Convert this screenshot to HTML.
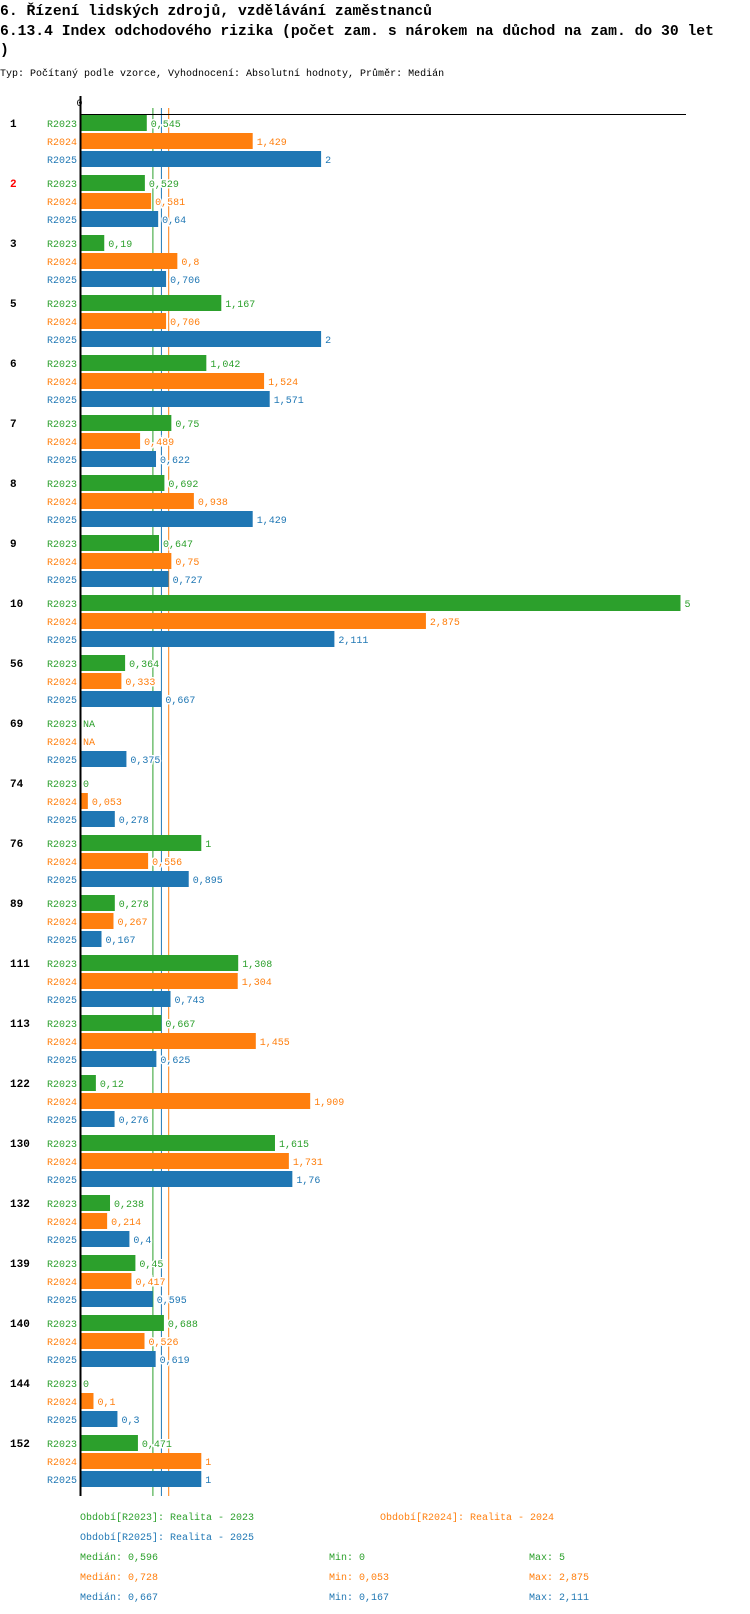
<!DOCTYPE html>
<html><head><meta charset="utf-8"><style>
html,body{margin:0;padding:0;background:#fff;width:750px;height:1614px;overflow:hidden}
svg{display:block}
.t{font-family:"Liberation Mono",monospace;font-weight:bold;font-size:14.7px;fill:#000}
.s{font-family:"Liberation Mono",monospace;font-size:10px;fill:#000}
.l{font-family:"Liberation Mono",monospace;font-size:10px}
.g{font-family:"Liberation Mono",monospace;font-size:11px;font-weight:bold}
.v{paint-order:stroke;stroke:#fff;stroke-width:3px}
</style></head><body>
<svg id="chart" width="750" height="1614">
<text class="t" x="0" y="15">6. Řízení lidských zdrojů, vzdělávání zaměstnanců</text>
<text class="t" x="0" y="35">6.13.4 Index odchodového rizika (počet zam. s nárokem na důchod na zam. do 30 let</text>
<text class="t" x="0" y="54">)</text>
<text class="s" x="0" y="76">Typ: Počítaný podle vzorce, Vyhodnocení: Absolutní hodnoty, Průměr: Medián</text>
<g id="plot"></g>
<g id="legend" class="l">
<text x="80" y="1520" fill="#2ca02c">Období[R2023]: Realita - 2023</text>
<text x="380" y="1520" fill="#ff7f0e">Období[R2024]: Realita - 2024</text>
<text x="80" y="1540" fill="#1f77b4">Období[R2025]: Realita - 2025</text>
</g>
</svg>
<script>
const categories=["1","2","3","5","6","7","8","9","10","56","69","74","76","89","111","113","122","130","132","139","140","144","152"];
const r2023=[0.545,0.529,0.19,1.167,1.042,0.75,0.692,0.647,5,0.364,null,0,1,0.278,1.308,0.667,0.12,1.615,0.238,0.45,0.688,0,0.471];
const r2024=[1.429,0.581,0.8,0.706,1.524,0.489,0.938,0.75,2.875,0.333,null,0.053,0.556,0.267,1.304,1.455,1.909,1.731,0.214,0.417,0.526,0.1,1];
const r2025=[2,0.64,0.706,2,1.571,0.622,1.429,0.727,2.111,0.667,0.375,0.278,0.895,0.167,0.743,0.625,0.276,1.76,0.4,0.595,0.619,0.3,1];
const seriesNames=["R2023","R2024","R2025"];
const seriesColors=["#2ca02c","#ff7f0e","#1f77b4"];
const medians=[0.596,0.728,0.667];
const mins=[0,0.053,0.167];
const maxs=[5,2.875,2.111];
const highlighted=["2"];

const NS="http://www.w3.org/2000/svg";
const X0=81.5, PXU=119.8, TOP=115, GP=60, BP=18, BH=16;
const x=v=>X0+v*PXU;
const yb=(g,s)=>TOP+g*GP+s*BP;
const fmt=v=>String(Math.round(v*1000)/1000).replace('.',',');
const plot=document.getElementById('plot');
function mk(tag,attrs,txt){const e=document.createElementNS(NS,tag);for(const k in attrs)e.setAttribute(k,attrs[k]);if(txt!==undefined)e.textContent=txt;plot.appendChild(e);return e;}
const series=[r2023,r2024,r2025];
const bottom=yb(categories.length-1,2)+BH+9;
// median lines
medians.forEach((m,i)=>{
 const ln=mk('line',{x1:x(m),x2:x(m),y1:108,y2:bottom,stroke:seriesColors[i],'stroke-width':1});
 
 
});
// top axis
const ta=mk('line',{x1:80,x2:666+20,y1:114.5,y2:114.5,stroke:'#000','stroke-width':1});


const z=mk('text',{x:x(0)-2,y:106,'class':'s','text-anchor':'middle'},"0");


categories.forEach((c,g)=>{
 const gl=mk('text',{x:10,y:yb(g,0)+12,'class':'g',fill:highlighted.includes(c)?'#f00':'#000'},c);
 
 
 series.forEach((arr,s)=>{
  const y=yb(g,s);
  const sl=mk('text',{x:77,y:y+12,'class':'l','text-anchor':'end',fill:seriesColors[s]},seriesNames[s]);
  
  
  const v=arr[g];
  if(v===null){
   const na=mk('text',{x:83,y:y+12,'class':'l',fill:seriesColors[s]},"NA");
   
   
   return;
  }
  const w=x(v)-X0;
  if(w>0){
   const r=mk('rect',{x:X0,y:y,width:w,height:BH,fill:seriesColors[s]});
   
   
  }
  const t=mk('text',{x:x(v)+(w>0?4:1.5),y:y+12,'class':'l v',fill:seriesColors[s]},fmt(v));
  
  
 });
});
const ax=mk('line',{x1:80.5,x2:80.5,y1:96,y2:bottom,stroke:'#000','stroke-width':2});


// stats
const lg=document.getElementById('legend');
seriesNames.forEach((n,i)=>{
 const y=1560+i*20;
 [[80,"Medián: "+fmt(medians[i])],[329,"Min: "+fmt(mins[i])],[529,"Max: "+fmt(maxs[i])]].forEach((p,j)=>{
  const t=document.createElementNS(NS,'text');
  t.setAttribute('x',p[0]);t.setAttribute('y',y);t.setAttribute('fill',seriesColors[i]);
  t.textContent=p[1];
  
  
  lg.appendChild(t);
 });
});
</script>
</body></html>
